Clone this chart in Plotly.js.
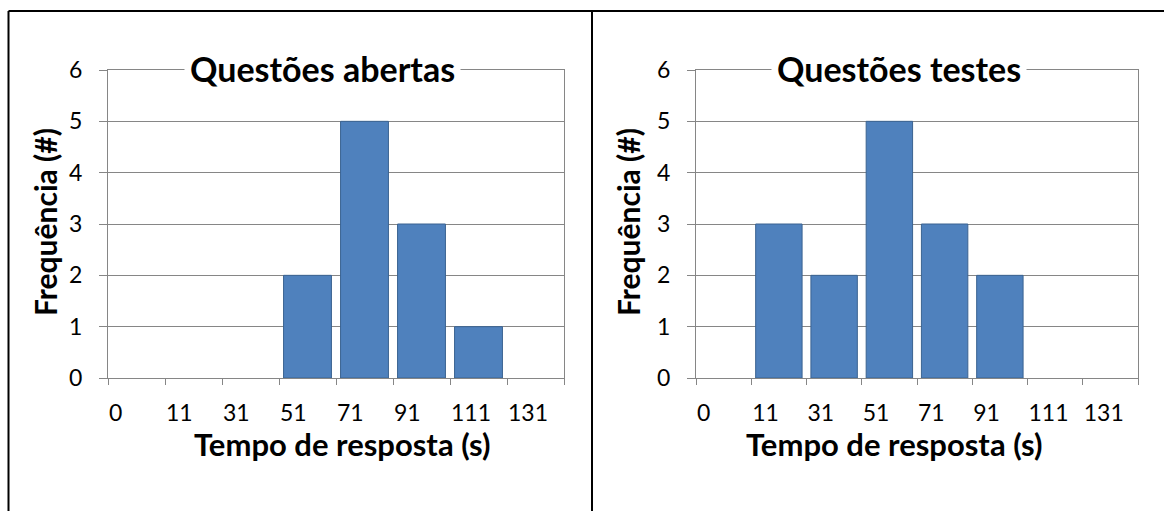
<!DOCTYPE html>
<html>
<head>
<meta charset="utf-8">
<script src="https://cdn.plot.ly/plotly-3.0.1.min.js"></script>
<style>html,body{margin:0;padding:0;background:#fff;}#chart{width:1164px;height:511px;}</style>
</head>
<body>
<div id="chart"></div>
<script>
// ---- data ----
const binLabels = ["0", "11", "31", "51", "71", "91", "111", "131"];
const openCounts = [0, 0, 0, 2, 5, 3, 1, 0];   // Questões abertas
const testCounts = [0, 3, 2, 5, 3, 2, 0, 0];   // Questões testes
const titleOpen = "Questões abertas";
const titleTest = "Questões testes";
const xTitle = "Tempo de resposta (s)";
const yTitle = "Frequência (#)";

const FONT = "Lato, 'Open Sans', sans-serif";
const W = 1164, H = 511;
const px = v => v / W;
const py = v => 1 - v / H;

const binPos = binLabels.map((_, i) => i + 0.5);
const tickPos = binLabels.map((_, i) => i).concat([binLabels.length]);
const tickText = binLabels.concat([""]);

function barMarker(vals) {
  return {color: "#4F81BD", line: {color: "#3B6391", width: vals.map(v => v ? 1 : 0)}};
}

const traces = [
  {type: "bar", x: binPos, y: openCounts, xaxis: "x", yaxis: "y", marker: barMarker(openCounts), width: 0.84, hoverinfo: "x+y"},
  {type: "bar", x: binPos, y: testCounts, xaxis: "x2", yaxis: "y2", marker: barMarker(testCounts), width: 0.84, hoverinfo: "x+y"}
];

const grid = "#868686";
function xAx(domain, anchor) {
  return {
    domain: domain, anchor: anchor, range: [0, binLabels.length],
    tickmode: "array", tickvals: tickPos, ticktext: tickText,
    ticklabelposition: "outside right", ticklabelstandoff: 14,
    showgrid: false, zeroline: false,
    showline: true, linecolor: grid, linewidth: 1, mirror: true,
    ticks: "outside", ticklen: 6, tickcolor: grid, tickwidth: 1,
    tickfont: {family: FONT, size: 23, color: "#000"}, fixedrange: true
  };
}
function yAx(domain, anchor) {
  return {
    domain: domain, anchor: anchor, range: [0, 6], dtick: 1, tick0: 0,
    showgrid: true, gridcolor: grid, gridwidth: 1, zeroline: false,
    showline: true, linecolor: grid, linewidth: 1, mirror: true,
    ticks: "outside", ticklen: 8, tickcolor: grid, tickwidth: 1, ticklabelstandoff: 12,
    tickfont: {family: FONT, size: 23, color: "#000"}, fixedrange: true
  };
}
const yDom = [py(378), py(70)];

function ann(text, x, y, size, extra) {
  return Object.assign({
    text: text, xref: "paper", yref: "paper", x: px(x), y: py(y),
    xanchor: "center", yanchor: "middle", showarrow: false,
    font: {family: FONT, size: size, color: "#000", weight: "bold"}
  }, extra || {});
}

const layout = {
  width: W, height: H, margin: {l: 0, r: 0, t: 0, b: 0},
  paper_bgcolor: "#fff", plot_bgcolor: "#fff", showlegend: false,
  bargap: 0.16,
  xaxis: xAx([px(108), px(564)], "y"),
  yaxis: yAx(yDom, "x"),
  xaxis2: xAx([px(696), px(1138)], "y2"),
  yaxis2: yAx(yDom, "x2"),
  annotations: [
    ann("<b>" + titleOpen + "</b>", 322.5, 68, 34, {bgcolor: "#fff", borderpad: 5}),
    ann("<b>" + titleTest + "</b>", 899, 68, 34, {bgcolor: "#fff", borderpad: 5}),
    ann("<b>" + xTitle + "</b>", 342, 444, 31),
    ann("<b>" + xTitle + "</b>", 894, 444, 31),
    ann("<b>" + yTitle + "</b>", 45, 222, 30, {textangle: -90}),
    ann("<b>" + yTitle + "</b>", 628, 222, 30, {textangle: -90})
  ],
  shapes: [
    {type: "line", xref: "paper", yref: "paper", x0: px(8.5), x1: 1, y0: py(11), y1: py(11), line: {color: "#000", width: 2}},
    {type: "line", xref: "paper", yref: "paper", x0: px(8.5), x1: px(8.5), y0: py(11), y1: 0, line: {color: "#000", width: 2}},
    {type: "line", xref: "paper", yref: "paper", x0: px(592), x1: px(592), y0: py(11), y1: 0, line: {color: "#000", width: 2}}
  ]
};

Plotly.newPlot("chart", traces, layout, {displayModeBar: false, staticPlot: true});
</script>
</body>
</html>
